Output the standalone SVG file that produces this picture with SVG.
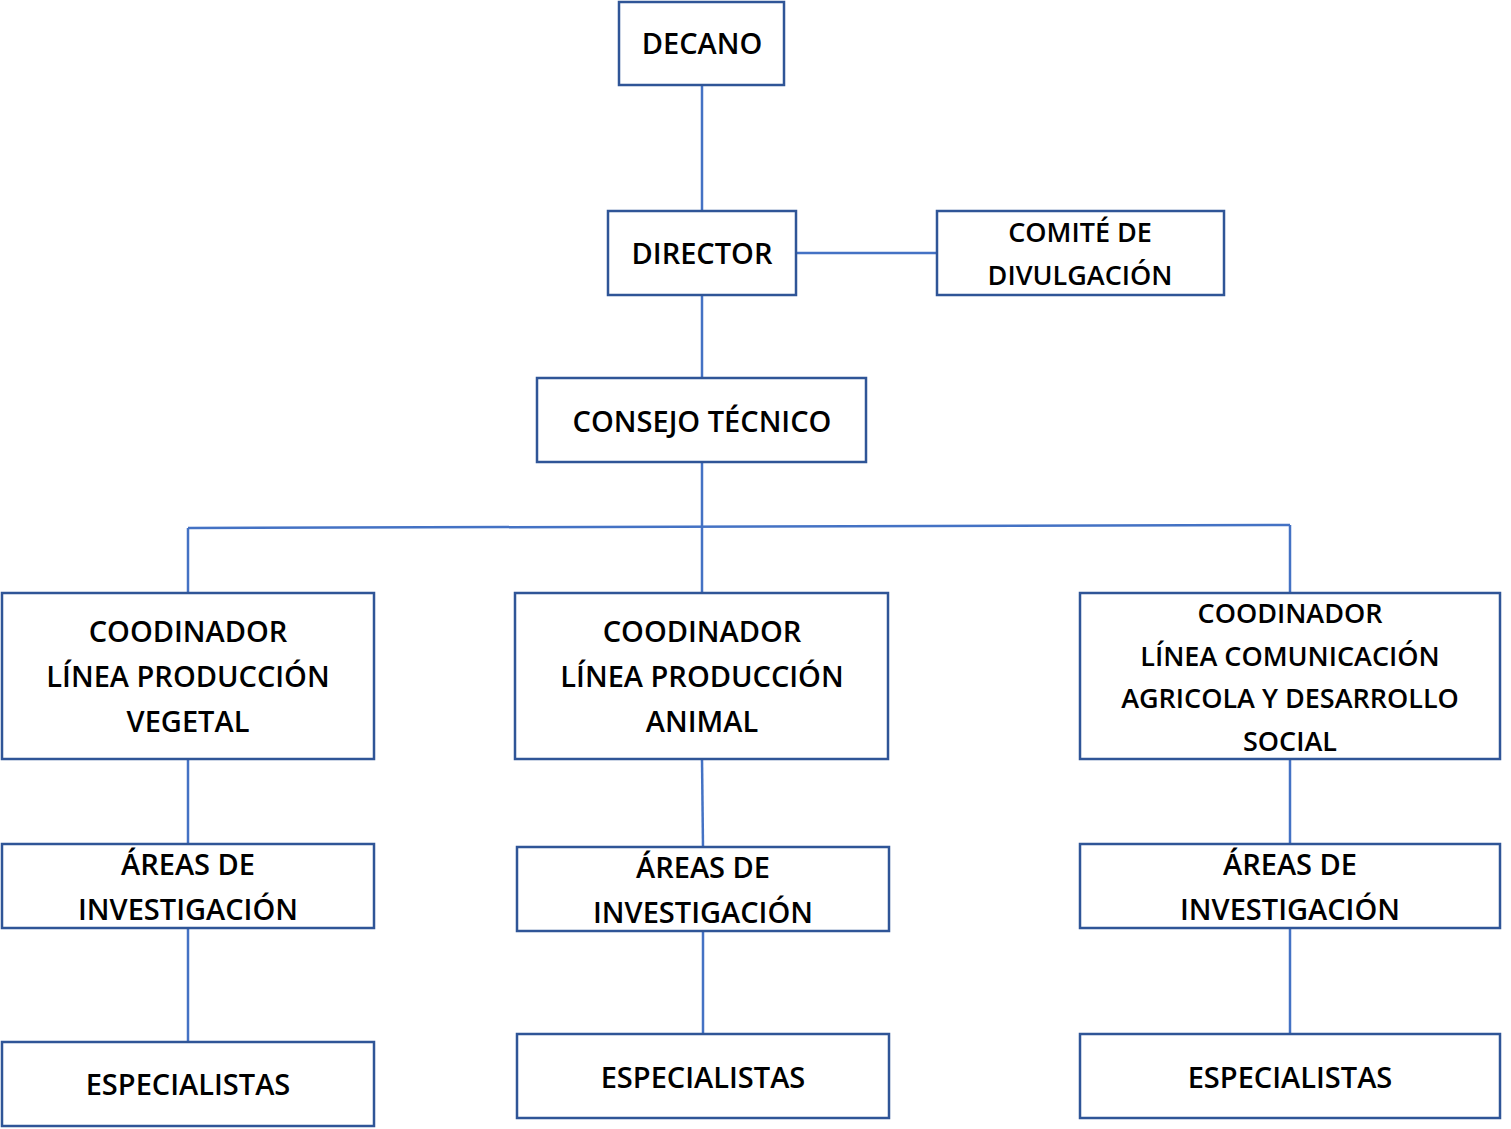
<svg xmlns="http://www.w3.org/2000/svg" width="1511" height="1129" viewBox="0 0 1511 1129">
<style>
.b{fill:#fff;stroke:#2F5597;stroke-width:2.5}
.t{font-family:"Open Sans","Liberation Sans",sans-serif;font-weight:600;font-size:29px;fill:#000;text-anchor:middle}
.s{font-size:27px}
.c line{stroke:#4472C4;stroke-width:2.5}
</style>
<rect width="1511" height="1129" fill="#fff"/>
<g class="c" id="connectors">
<line x1="702" y1="85" x2="702" y2="211"/>
<line x1="796" y1="253" x2="937" y2="253"/>
<line x1="702" y1="295" x2="702" y2="378"/>
<line x1="702" y1="462" x2="702" y2="593"/>
<line x1="188" y1="528" x2="1290" y2="525"/>
<line x1="188" y1="528" x2="188" y2="593"/>
<line x1="1290" y1="525" x2="1290" y2="593"/>
<line x1="188" y1="759" x2="188" y2="844"/>
<line x1="702" y1="759" x2="703" y2="847"/>
<line x1="1290" y1="759" x2="1290" y2="844"/>
<line x1="188" y1="928" x2="188" y2="1042"/>
<line x1="703" y1="931" x2="703" y2="1034"/>
<line x1="1290" y1="928" x2="1290" y2="1034"/>
</g>
<g id="decano"><rect class="b" x="619" y="2" width="165" height="83"/><text class="t" x="702" y="54">DECANO</text></g>
<g id="director"><rect class="b" x="608" y="211" width="188" height="84"/><text class="t" x="702" y="264">DIRECTOR</text></g>
<g id="comite"><rect class="b" x="937" y="211" width="287" height="84"/><text class="t s" x="1080" y="242">COMITÉ DE</text><text class="t s" x="1080" y="285">DIVULGACIÓN</text></g>
<g id="consejo"><rect class="b" x="537" y="378" width="329" height="84"/><text class="t" x="702" y="432">CONSEJO TÉCNICO</text></g>
<g id="coord1"><rect class="b" x="2" y="593" width="372" height="166"/><text class="t" x="188" y="642">COODINADOR</text><text class="t" x="188" y="687">LÍNEA PRODUCCIÓN</text><text class="t" x="188" y="732">VEGETAL</text></g>
<g id="coord2"><rect class="b" x="515" y="593" width="373" height="166"/><text class="t" x="702" y="642">COODINADOR</text><text class="t" x="702" y="687">LÍNEA PRODUCCIÓN</text><text class="t" x="702" y="732">ANIMAL</text></g>
<g id="coord3"><rect class="b" x="1080" y="593" width="420" height="166"/><text class="t s" x="1290" y="623">COODINADOR</text><text class="t s" x="1290" y="666">LÍNEA COMUNICACIÓN</text><text class="t s" x="1290" y="708">AGRICOLA Y DESARROLLO</text><text class="t s" x="1290" y="751">SOCIAL</text></g>
<g id="areas1"><rect class="b" x="2" y="844" width="372" height="84"/><text class="t" x="188" y="875">ÁREAS DE</text><text class="t" x="188" y="920">INVESTIGACIÓN</text></g>
<g id="areas2"><rect class="b" x="517" y="847" width="372" height="84"/><text class="t" x="703" y="878">ÁREAS DE</text><text class="t" x="703" y="923">INVESTIGACIÓN</text></g>
<g id="areas3"><rect class="b" x="1080" y="844" width="420" height="84"/><text class="t" x="1290" y="875">ÁREAS DE</text><text class="t" x="1290" y="920">INVESTIGACIÓN</text></g>
<g id="esp1"><rect class="b" x="2" y="1042" width="372" height="84"/><text class="t" x="188" y="1095">ESPECIALISTAS</text></g>
<g id="esp2"><rect class="b" x="517" y="1034" width="372" height="84"/><text class="t" x="703" y="1088">ESPECIALISTAS</text></g>
<g id="esp3"><rect class="b" x="1080" y="1034" width="420" height="84"/><text class="t" x="1290" y="1088">ESPECIALISTAS</text></g>
</svg>
